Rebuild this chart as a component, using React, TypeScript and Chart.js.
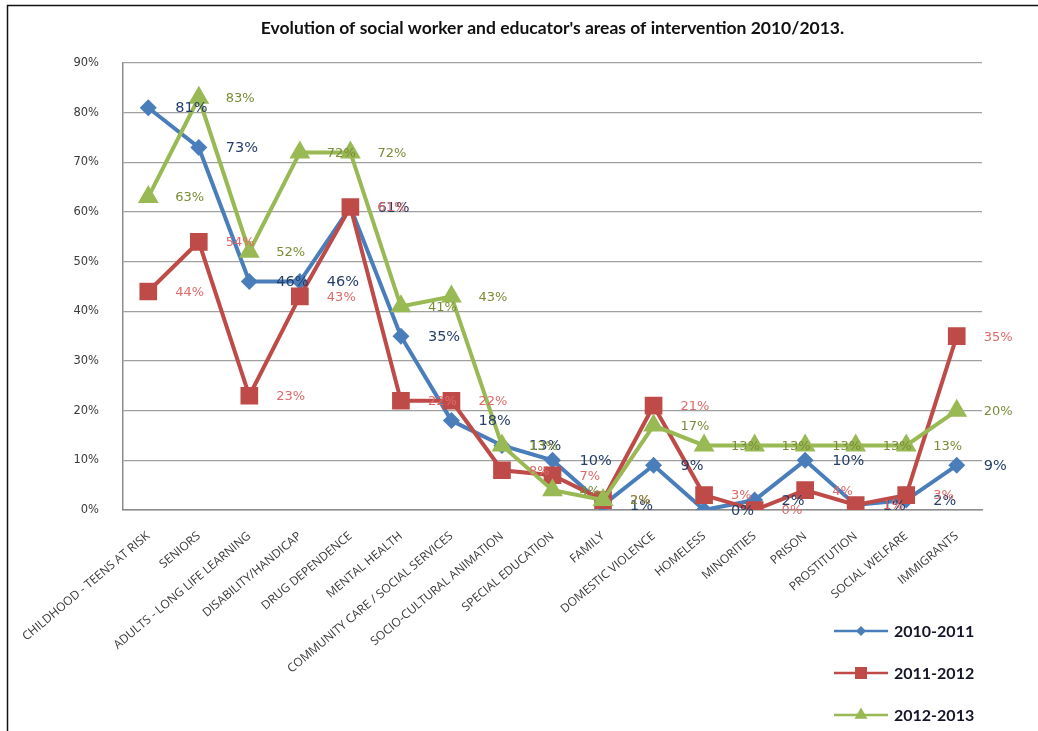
import React, { useEffect, useRef } from "react";
import { Chart, registerables } from "chart.js";

Chart.register(...registerables);

const titleText = "Evolution of social worker and educator's areas of intervention 2010/2013.";

const categories = [
  "CHILDHOOD - TEENS AT RISK",
  "SENIORS",
  "ADULTS - LONG LIFE LEARNING",
  "DISABILITY/HANDICAP",
  "DRUG DEPENDENCE",
  "MENTAL HEALTH",
  "COMMUNITY CARE / SOCIAL SERVICES",
  "SOCIO-CULTURAL ANIMATION",
  "SPECIAL EDUCATION",
  "FAMILY",
  "DOMESTIC VIOLENCE",
  "HOMELESS",
  "MINORITIES",
  "PRISON",
  "PROSTITUTION",
  "SOCIAL WELFARE",
  "IMMIGRANTS",
];

const seriesNames = ["2010-2011", "2011-2012", "2012-2013"];

const values2010 = [81, 73, 46, 46, 61, 35, 18, 13, 10, 1, 9, 0, 2, 10, 1, 2, 9];
const values2011 = [44, 54, 23, 43, 61, 22, 22, 8, 7, 2, 21, 3, 0, 4, 1, 3, 35];
const values2012 = [63, 83, 52, 72, 72, 41, 43, 13, 4, 2, 17, 13, 13, 13, 13, 13, 20];

const yMin = 0;
const yMax = 90;
const yStep = 10;

const lineColors = ["#4A7EBB", "#BE4B48", "#98B954"];
const labelColors = ["#253F6A", "#E06A68", "#7A8C38"];
const labelFonts = ["14.5px 'DejaVu Sans'", "13px 'DejaVu Sans'", "13px 'DejaVu Sans'"];
const pointStyles = ["rectRot", "rect", "triangle"];
const pointRadii = [8.5, 12.5, 12];
const legendPointRadii = [5, 8.5, 7.5];

const decorPlugin = {
  id: "decor",
  beforeDraw(chart: any) {
    const { ctx, width, height } = chart;
    ctx.save();
    ctx.fillStyle = "#ffffff";
    ctx.fillRect(0, 0, width, height);
    ctx.strokeStyle = "#111111";
    ctx.lineWidth = 1.5;
    ctx.beginPath();
    ctx.moveTo(7.5, height);
    ctx.lineTo(7.5, 5.5);
    ctx.lineTo(width, 5.5);
    ctx.stroke();
    ctx.restore();
  },
  afterDatasetsDraw(chart: any) {
    const { ctx } = chart;
    ctx.save();
    ctx.textAlign = "left";
    ctx.textBaseline = "middle";
    chart.data.datasets.forEach((ds: any, i: number) => {
      const meta = chart.getDatasetMeta(i);
      ctx.font = labelFonts[i];
      ctx.fillStyle = labelColors[i];
      meta.data.forEach((pt: any, j: number) => {
        ctx.fillText(ds.data[j] + "%", pt.x + 27, pt.y + 1);
      });
    });
    ctx.restore();
  },
  afterDraw(chart: any) {
    const { ctx, chartArea } = chart;
    ctx.save();
    // title
    ctx.fillStyle = "#111111";
    ctx.font = "bold 17.5px Lato";
    ctx.textAlign = "center";
    ctx.textBaseline = "middle";
    ctx.fillText(titleText, (chartArea.left + chartArea.right) / 2, 28);
    // legend
    const lx0 = 834;
    const lx1 = 888;
    const ly0 = 631;
    const gap = 42;
    chart.data.datasets.forEach((ds: any, i: number) => {
      const y = ly0 + i * gap;
      ctx.strokeStyle = lineColors[i];
      ctx.lineWidth = 2.5;
      ctx.beginPath();
      ctx.moveTo(lx0, y);
      ctx.lineTo(lx1, y);
      ctx.stroke();
      ctx.fillStyle = lineColors[i];
      ctx.beginPath();
      const cx = (lx0 + lx1) / 2;
      const r = legendPointRadii[i];
      if (pointStyles[i] === "rectRot") {
        ctx.moveTo(cx, y - r);
        ctx.lineTo(cx + r, y);
        ctx.lineTo(cx, y + r);
        ctx.lineTo(cx - r, y);
        ctx.closePath();
      } else if (pointStyles[i] === "rect") {
        const s = r * Math.SQRT1_2;
        ctx.rect(cx - s, y - s, 2 * s, 2 * s);
      } else {
        ctx.moveTo(cx, y - r);
        ctx.lineTo(cx + r * 0.866, y + r * 0.5);
        ctx.lineTo(cx - r * 0.866, y + r * 0.5);
        ctx.closePath();
      }
      ctx.fill();
      ctx.fillStyle = "#151528";
      ctx.font = "bold 16px Lato";
      ctx.textAlign = "left";
      ctx.textBaseline = "middle";
      ctx.fillText(ds.label, lx1 + 6, y + 1);
    });
    ctx.restore();
  },
};

export default function App() {
  const canvasRef = useRef<HTMLCanvasElement | null>(null);

  useEffect(() => {
    const canvas = canvasRef.current;
    if (!canvas) return;
    const seriesValues = [values2010, values2011, values2012];
    const chart = new Chart(canvas, {
      type: "line",
      data: {
        labels: categories,
        datasets: seriesNames.map((name, i) => ({
          label: name,
          data: seriesValues[i],
          borderColor: lineColors[i],
          backgroundColor: lineColors[i],
          borderWidth: 4,
          pointStyle: pointStyles[i] as any,
          pointRadius: pointRadii[i],
          pointBorderWidth: 0,
          pointBackgroundColor: lineColors[i],
          tension: 0,
          fill: false,
          order: 2 - i,
        })),
      },
      options: {
        responsive: false,
        animation: false,
        events: [],
        layout: { padding: { left: 0, right: 56, top: 63, bottom: 0 } },
        plugins: {
          legend: { display: false },
          title: { display: false },
          tooltip: { enabled: false },
        },
        scales: {
          x: {
            type: "category",
            offset: true,
            grid: { display: false, drawTicks: false },
            border: { display: true, color: "#8C8C8C", width: 1.5 },
            ticks: {
              autoSkip: false,
              minRotation: 40,
              maxRotation: 40,
              padding: 19,
              color: "#3A3A3A",
              font: { family: "'Open Sans', sans-serif", size: 12 },
            },
            afterFit(scale: any) {
              scale.height = 221;
            },
          },
          y: {
            min: yMin,
            max: yMax,
            ticks: {
              stepSize: yStep,
              padding: 24,
              color: "#3A3A3A",
              font: { family: "'DejaVu Sans'", size: 11.5 },
              callback: (v: any) => v + "%",
            },
            grid: { color: "#A0A0A0", lineWidth: 1.2, drawTicks: false },
            border: { display: true, color: "#8C8C8C", width: 1.5 },
            afterFit(scale: any) {
              scale.width = 123;
            },
          },
        },
      },
      plugins: [decorPlugin],
    });
    return () => chart.destroy();
  }, []);

  return (
    <div style={{ position: "fixed", left: 0, top: 0, width: 1038, height: 731, background: "#fff" }}>
      <canvas ref={canvasRef} width={1038} height={731} style={{ width: 1038, height: 731, display: "block" }} />
    </div>
  );
}
